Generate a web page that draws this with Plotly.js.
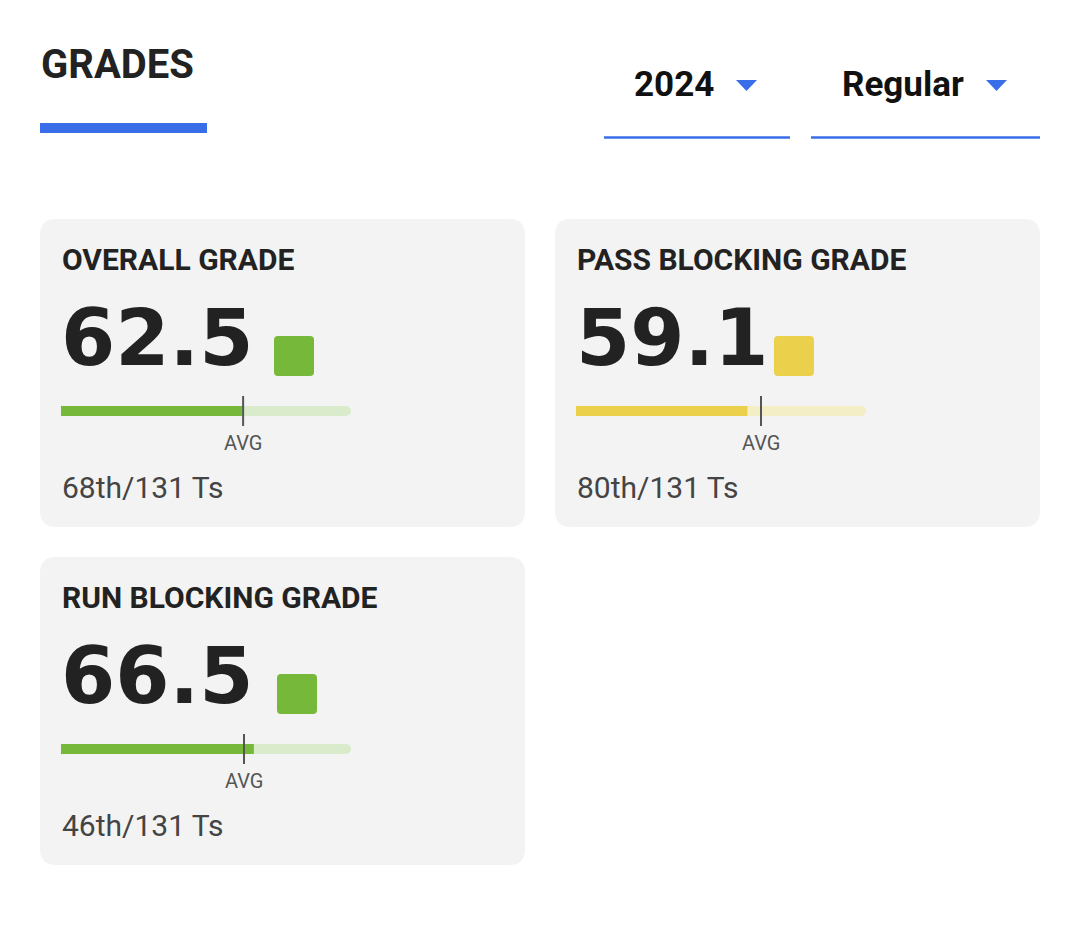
<!DOCTYPE html>
<html><head><meta charset="utf-8">
<script src="https://cdn.plot.ly/plotly-3.0.1.min.js"></script>
<style>html,body{margin:0;padding:0;background:#fff}</style>
</head><body>
<div id="chart" style="width:1080px;height:931px"></div>
<script>
// ---- data ----
const pageTitle = 'GRADES';
const season = '2024';
const seasonType = 'Regular';
const categories = ['OVERALL GRADE', 'PASS BLOCKING GRADE', 'RUN BLOCKING GRADE'];
const grades = [62.5, 59.1, 66.5];
const averages = [62.8, 63.8, 63.1];
const ranks = ['68th/131 Ts', '80th/131 Ts', '46th/131 Ts'];
const scaleRange = [0, 100];

// ---- layout helpers ----
const W = 1080, H = 931;
const px = x => x / W, py = y => 1 - y / H;
function rr(x0, y0, x1, y1, r) {
  return `M${px(x0 + r)},${py(y0)} L${px(x1 - r)},${py(y0)} Q${px(x1)},${py(y0)} ${px(x1)},${py(y0 + r)} ` +
         `L${px(x1)},${py(y1 - r)} Q${px(x1)},${py(y1)} ${px(x1 - r)},${py(y1)} L${px(x0 + r)},${py(y1)} ` +
         `Q${px(x0)},${py(y1)} ${px(x0)},${py(y1 - r)} L${px(x0)},${py(y0 + r)} Q${px(x0)},${py(y0)} ${px(x0 + r)},${py(y0)} Z`;
}
function gradeColors(g) {
  return g >= 60 ? {main: '#76b83a', light: '#d9ebcb'} : {main: '#ebd04b', light: '#f4eec6'};
}
const cardOrigins = [[40, 219], [555, 219], [40, 557]];
const squareX = [274, 774, 277];
const cardW = 485, cardH = 308, trackW = 290;
const BLUE = '#3a6ee8';

const traces = [], shapes = [], annotations = [];
const layout = {
  width: W, height: H, margin: {l: 0, r: 0, t: 0, b: 0},
  paper_bgcolor: '#ffffff', plot_bgcolor: 'rgba(0,0,0,0)',
  showlegend: false, barmode: 'overlay', hovermode: false,
  font: {family: 'Roboto, sans-serif'}
};

// header
annotations.push({xref: 'paper', yref: 'paper', x: px(39), y: py(65), xanchor: 'left', yanchor: 'middle',
  text: pageTitle, showarrow: false, font: {family: 'Roboto', size: 40, weight: 700, color: '#222'}});
shapes.push({type: 'rect', xref: 'paper', yref: 'paper', x0: px(40), x1: px(207), y0: py(123), y1: py(133),
  fillcolor: BLUE, line: {width: 0}});
[[season, 634, 604, 790, 736], [seasonType, 842, 811, 1040, 986]].forEach(([t, tx, u0, u1, tri]) => {
  annotations.push({xref: 'paper', yref: 'paper', x: px(tx - 2), y: py(84), xanchor: 'left', yanchor: 'middle',
    text: t, showarrow: false, font: {family: 'Roboto', size: 35, weight: 700, color: '#111'}});
  shapes.push({type: 'path', xref: 'paper', yref: 'paper',
    path: `M${px(tri)},${py(80)} L${px(tri + 21)},${py(80)} L${px(tri + 10.5)},${py(91)} Z`,
    fillcolor: BLUE, line: {width: 0}});
  shapes.push({type: 'line', xref: 'paper', yref: 'paper', x0: px(u0), x1: px(u1), y0: py(137.5), y1: py(137.5),
    line: {color: BLUE, width: 2.5}});
});

// cards
categories.forEach((cat, i) => {
  const [ox, oy] = cardOrigins[i];
  const sfx = i === 0 ? '' : String(i + 1);
  const col = gradeColors(grades[i]);
  shapes.push({type: 'path', xref: 'paper', yref: 'paper', layer: 'below', path: rr(ox, oy, ox + cardW, oy + cardH, 16),
    fillcolor: '#f3f3f3', line: {width: 0}});
  // square
  shapes.push({type: 'path', xref: 'paper', yref: 'paper',
    path: rr(squareX[i], oy + 117, squareX[i] + 40, oy + 157, 4), fillcolor: col.main, line: {width: 0}});

  const tx0 = ox + 21, cy = oy + 192;
  layout['xaxis' + sfx] = {domain: [px(tx0), px(tx0 + trackW)], range: scaleRange, visible: false,
    fixedrange: true, anchor: 'y' + sfx};
  layout['yaxis' + sfx] = {domain: [py(cy + 15), py(cy - 15)], range: [-1, 1], visible: false,
    fixedrange: true, anchor: 'x' + sfx};
  traces.push({type: 'bar', orientation: 'h', x: [scaleRange[1]], y: [0], width: 0.667,
    xaxis: 'x' + sfx, yaxis: 'y' + sfx, marker: {color: col.light, cornerradius: 5, line: {width: 0}}, hoverinfo: 'skip'});
  traces.push({type: 'bar', orientation: 'h', x: [grades[i]], y: [0], width: 0.667,
    xaxis: 'x' + sfx, yaxis: 'y' + sfx, marker: {color: col.main, cornerradius: 5, line: {width: 0}}, hoverinfo: 'skip'});
  traces.push({type: 'scatter', mode: 'lines', x: [averages[i], averages[i]], y: [-1, 1], cliponaxis: false,
    xaxis: 'x' + sfx, yaxis: 'y' + sfx, line: {color: '#555', width: 2}, hoverinfo: 'skip'});

  annotations.push({xref: 'paper', yref: 'paper', x: px(ox + 20), y: py(oy + 40.5), xanchor: 'left', yanchor: 'middle',
    text: cat, showarrow: false, font: {family: 'Roboto', size: 30, weight: 700, color: '#222'}});
  annotations.push({xref: 'paper', yref: 'paper', x: px(ox + 19), y: py(oy + 119), xanchor: 'left', yanchor: 'middle',
    text: grades[i].toFixed(1), showarrow: false, font: {family: 'DejaVu Sans', size: 78, weight: 700, color: '#222'}});
  annotations.push({xref: 'x' + sfx, yref: 'paper', x: averages[i], y: py(oy + 224), xanchor: 'center', yanchor: 'middle',
    text: 'AVG', showarrow: false, font: {family: 'Roboto', size: 20, color: '#555'}});
  annotations.push({xref: 'paper', yref: 'paper', x: px(ox + 20), y: py(oy + 268), xanchor: 'left', yanchor: 'middle',
    text: ranks[i], showarrow: false, font: {family: 'Roboto', size: 30, color: '#444'}});
});

layout.shapes = shapes;
layout.annotations = annotations;
Plotly.newPlot('chart', traces, layout, {displayModeBar: false, staticPlot: true});
</script>
</body></html>
